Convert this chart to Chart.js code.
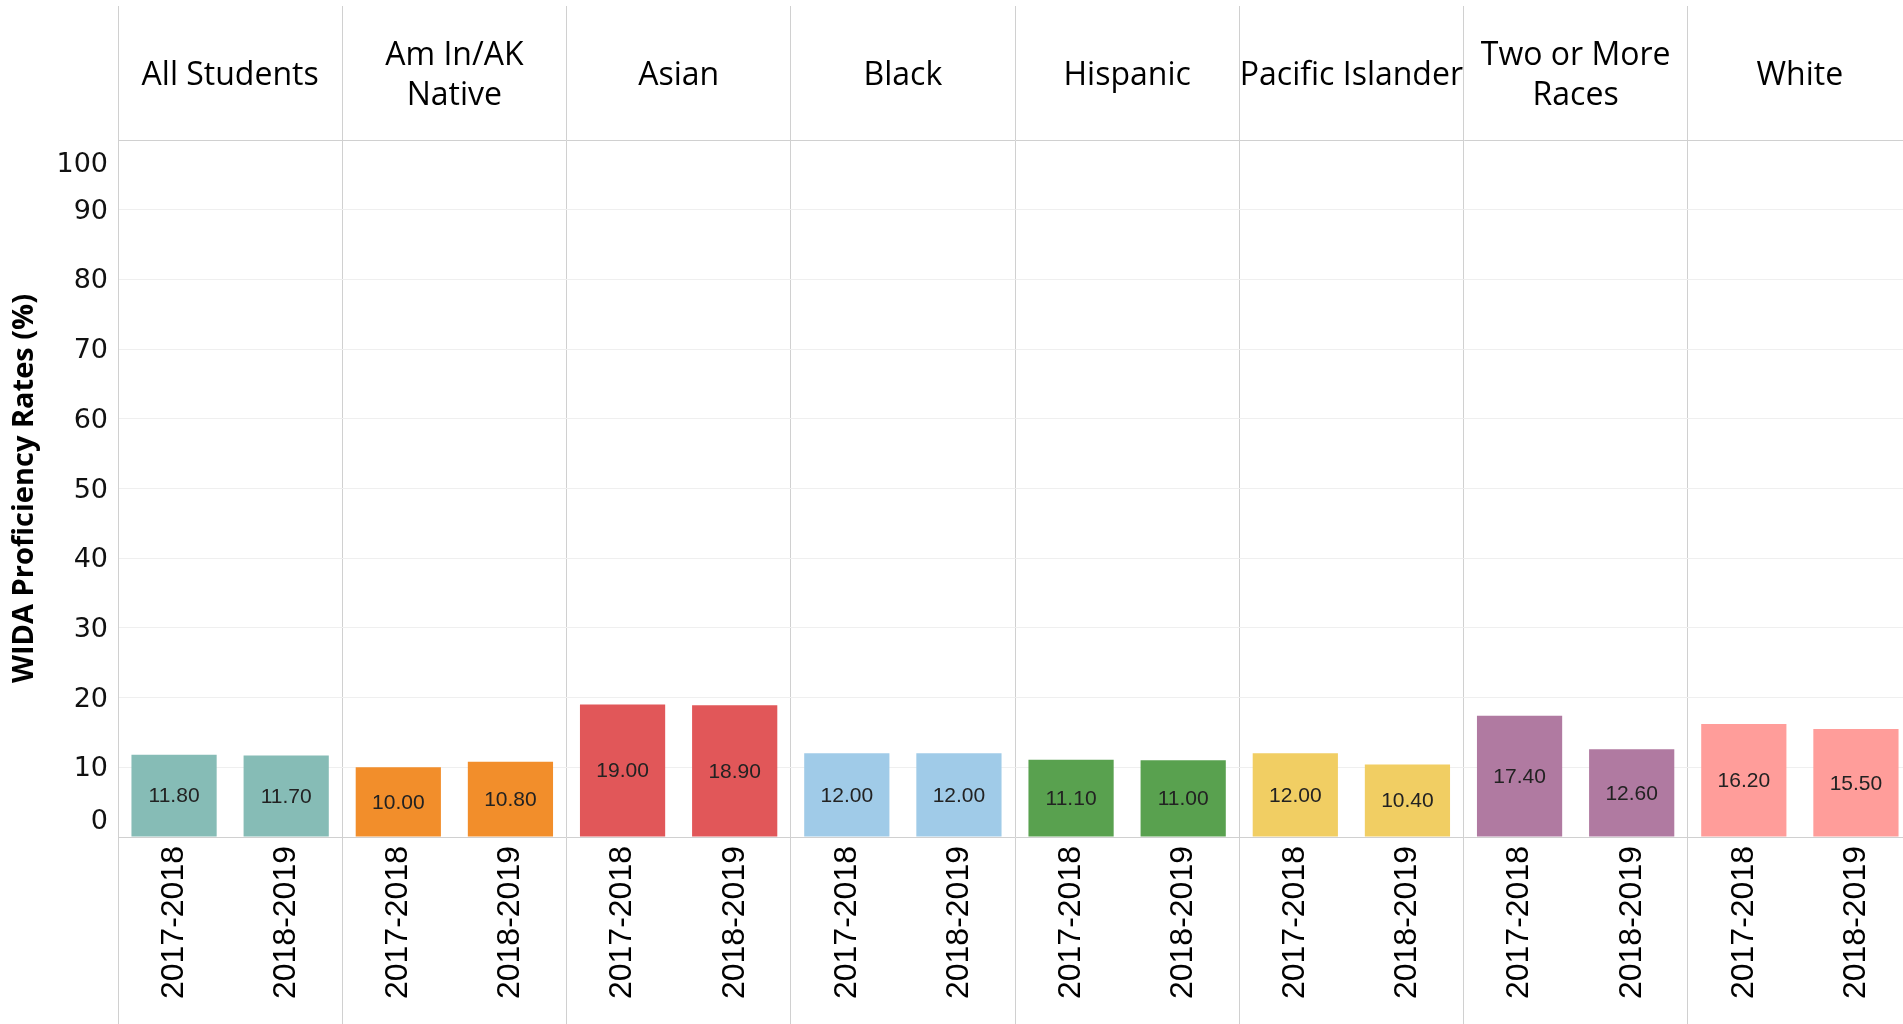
<!DOCTYPE html>
<html><head><meta charset="utf-8">
<script src="https://cdn.jsdelivr.net/npm/chart.js@4.4.1/dist/chart.umd.min.js"></script>
<style>
html,body{margin:0;padding:0;overflow:hidden;background:#fff;}
#wrap{position:relative;width:1912px;height:1024px;}
</style></head><body>
<div id="wrap"><canvas id="c"></canvas></div>
<script>
const groups = [['All Students'], ['Am In/AK', 'Native'], ['Asian'], ['Black'], ['Hispanic'], ['Pacific Islander'], ['Two or More', 'Races'], ['White']];
const years = ['2017-2018', '2018-2019'];
const values = [11.8, 11.7, 10.0, 10.8, 19.0, 18.9, 12.0, 12.0, 11.1, 11.0, 12.0, 10.4, 17.4, 12.6, 16.2, 15.5];
const groupColors = ['#86bcb6', '#f28e2b', '#e15759', '#a0cbe8', '#59a14f', '#f1ce63', '#b07aa1', '#ff9d9a'];
const yTickValues = [0, 10, 20, 30, 40, 50, 60, 70, 80, 90, 100];
const yTitle = 'WIDA Proficiency Rates (%)';

const xLabels = groups.flatMap(() => years);
const barColors = values.map((v, i) => groupColors[Math.floor(i / years.length)]);
const LINE = '#d0d0d0';

const valueLabels = {
  id: 'valueLabels',
  afterDatasetsDraw(chart) {
    const ctx = chart.ctx;
    const meta = chart.getDatasetMeta(0);
    ctx.save();
    ctx.font = '21px "Liberation Sans", Arial, sans-serif';
    ctx.fillStyle = '#222';
    ctx.textAlign = 'center';
    ctx.textBaseline = 'middle';
    meta.data.forEach((bar, i) => {
      const p = bar.getProps(['x', 'y', 'base'], true);
      ctx.fillText(values[i].toFixed(2), p.x, (p.y + p.base) / 2 + 1);
    });
    ctx.restore();
  }
};

const yLabels = {
  id: 'yLabels',
  afterDraw(chart) {
    const ctx = chart.ctx;
    const ys = chart.scales.y;
    const area = chart.chartArea;
    ctx.save();
    ctx.font = '27px "DejaVu Sans", Verdana, sans-serif';
    ctx.fillStyle = '#111';
    ctx.textAlign = 'right';
    ctx.textBaseline = 'middle';
    yTickValues.forEach(v => {
      let py = ys.getPixelForValue(v);
      if (v === ys.max) py += 23;
      if (v === ys.min) py -= 17;
      ctx.fillText(String(v), area.left - 10, py + 2);
    });
    ctx.restore();
  }
};

new Chart(document.getElementById('c'), {
  type: 'bar',
  data: {
    labels: xLabels,
    datasets: [{
      data: values,
      backgroundColor: barColors,
      borderWidth: 0,
      categoryPercentage: 1.0,
      barPercentage: 0.76,
      xAxisID: 'x',
      yAxisID: 'y'
    }]
  },
  options: {
    responsive: true,
    maintainAspectRatio: false,
    animation: false,
    layout: { padding: { top: 6, left: 0, right: 0, bottom: 0 } },
    plugins: { legend: { display: false }, tooltip: { enabled: false } },
    scales: {
      x: {
        type: 'category',
        position: 'bottom',
        offset: true,
        grid: {
          offset: true,
          drawOnChartArea: false,
          drawTicks: true,
          tickLength: 187,
          tickColor: c => (c.index !== undefined && c.index % 2 === 0) ? LINE : 'rgba(0,0,0,0)'
        },
        border: { display: true, color: LINE },
        ticks: {
          font: { family: '"Liberation Sans", Arial, sans-serif', size: 32 },
          color: '#000',
          maxRotation: 90,
          minRotation: 90,
          autoSkip: false,
          padding: -178
        },
        afterFit(s) { s.height = 187; }
      },
      x2: {
        type: 'category',
        labels: groups,
        position: 'top',
        offset: true,
        grid: {
          offset: true,
          color: LINE,
          drawTicks: true,
          tickLength: 134,
          tickColor: LINE
        },
        border: { display: true, color: LINE },
        ticks: {
          font: { family: '"Open Sans", sans-serif', size: 32, lineHeight: 1.25 },
          color: '#000',
          maxRotation: 0,
          minRotation: 0,
          autoSkip: false,
          crossAlign: 'center',
          padding: -90
        },
        afterFit(s) { s.height = 134; }
      },
      y: {
        min: 0,
        max: 100,
        ticks: { stepSize: 10, display: false },
        grid: {
          drawTicks: false,
          color: c => (c.tick && (c.tick.value === 0 || c.tick.value === 100)) ? 'rgba(0,0,0,0)' : '#efefef'
        },
        border: { display: true, color: LINE },
        title: {
          display: true,
          text: yTitle,
          font: { family: '"Open Sans", sans-serif', size: 29, weight: 'bold' },
          color: '#000',
          padding: { top: 7, bottom: 0 }
        },
        afterFit(s) { s.width = 118; }
      }
    }
  },
  plugins: [valueLabels, yLabels]
});
</script>
</body></html>
